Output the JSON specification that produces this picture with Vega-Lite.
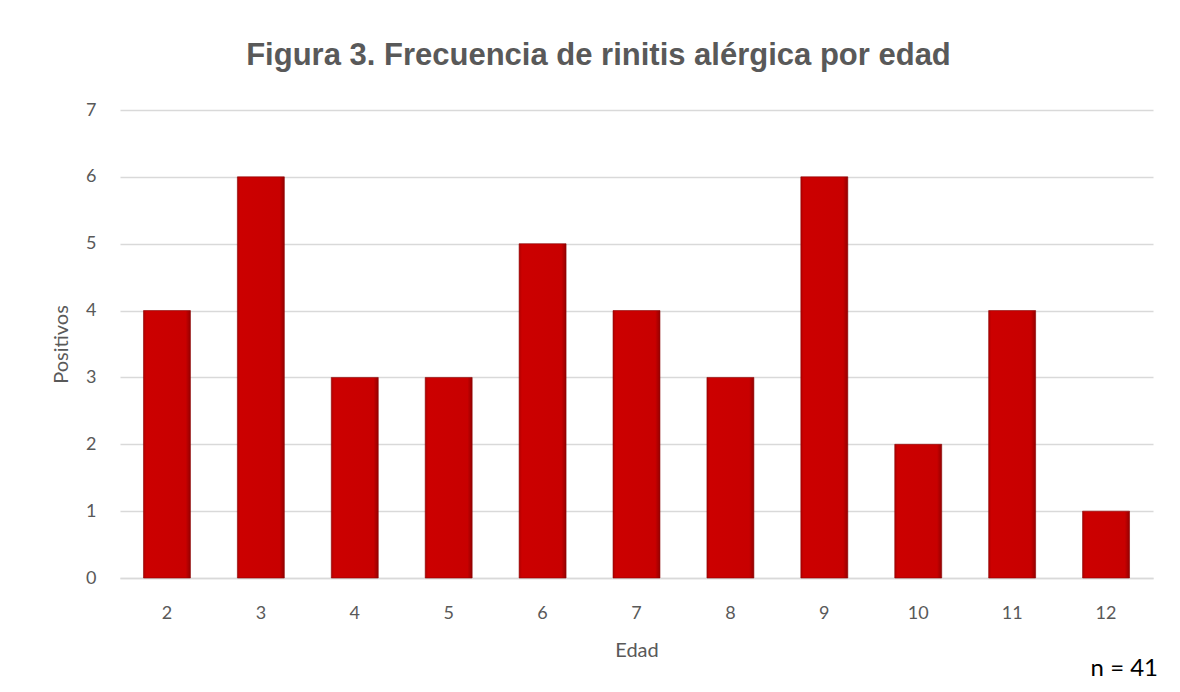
{
  "$schema": "https://vega.github.io/schema/vega-lite/v6.json",
  "width": 1033,
  "height": 468,
  "autosize": "none",
  "padding": {"left": 120, "top": 110, "right": 27, "bottom": 114},
  "background": "white",
  "title": {
    "text": "Figura 3. Frecuencia de rinitis alérgica por edad",
    "font": "Liberation Sans",
    "fontSize": 31,
    "fontWeight": "bold",
    "color": "#595959",
    "offset": 29,
    "dx": -38,
    "anchor": "middle"
  },
  "config": {
    "view": {"stroke": null},
    "axis": {
      "labelFont": "Lato",
      "titleFont": "Lato",
      "labelFontSize": 18,
      "titleFontSize": 20,
      "labelColor": "#595959",
      "titleColor": "#595959",
      "titleFontWeight": "normal",
      "ticks": false
    }
  },
  "data": {
    "values": [
      {"Edad": "2", "Positivos": 4},
      {"Edad": "3", "Positivos": 6},
      {"Edad": "4", "Positivos": 3},
      {"Edad": "5", "Positivos": 3},
      {"Edad": "6", "Positivos": 5},
      {"Edad": "7", "Positivos": 4},
      {"Edad": "8", "Positivos": 3},
      {"Edad": "9", "Positivos": 6},
      {"Edad": "10", "Positivos": 2},
      {"Edad": "11", "Positivos": 4},
      {"Edad": "12", "Positivos": 1}
    ]
  },
  "layer": [
    {
      "mark": {
        "type": "bar",
        "stroke": "#8a0000",
        "strokeWidth": 0.6,
        "fill": {
          "x1": 0, "y1": 0, "x2": 1, "y2": 0,
          "gradient": "linear",
          "stops": [
            {"offset": 0, "color": "#b00000"},
            {"offset": 0.06, "color": "#cc0000"},
            {"offset": 0.9, "color": "#c80000"},
            {"offset": 1, "color": "#950000"}
          ]
        }
      },
      "encoding": {
        "x": {
          "field": "Edad",
          "type": "ordinal",
          "sort": null,
          "scale": {"paddingInner": 0.5, "paddingOuter": 0.25},
          "axis": {
            "title": "Edad",
            "labelAngle": 0,
            "labelPadding": 26,
            "titlePadding": 18,
            "domainColor": "#d9d9d9",
            "domainWidth": 1.5
          }
        },
        "y": {
          "field": "Positivos",
          "type": "quantitative",
          "scale": {"domain": [0, 7]},
          "axis": {
            "title": "Positivos",
            "values": [0, 1, 2, 3, 4, 5, 6, 7],
            "format": "d",
            "labelPadding": 24,
            "titlePadding": 14,
            "domain": false,
            "gridColor": "#d9d9d9",
            "gridWidth": 1.5
          }
        }
      }
    },
    {
      "data": {"values": [{"Edad": "12", "Positivos": 0, "label": "n = 41"}]},
      "mark": {
        "type": "text",
        "font": "Lato",
        "fontSize": 24,
        "color": "#000000",
        "align": "right",
        "baseline": "alphabetic",
        "dx": 52,
        "dy": 98
      },
      "encoding": {
        "x": {"field": "Edad", "type": "ordinal", "sort": null},
        "y": {"field": "Positivos", "type": "quantitative"},
        "text": {"field": "label"}
      }
    }
  ]
}
